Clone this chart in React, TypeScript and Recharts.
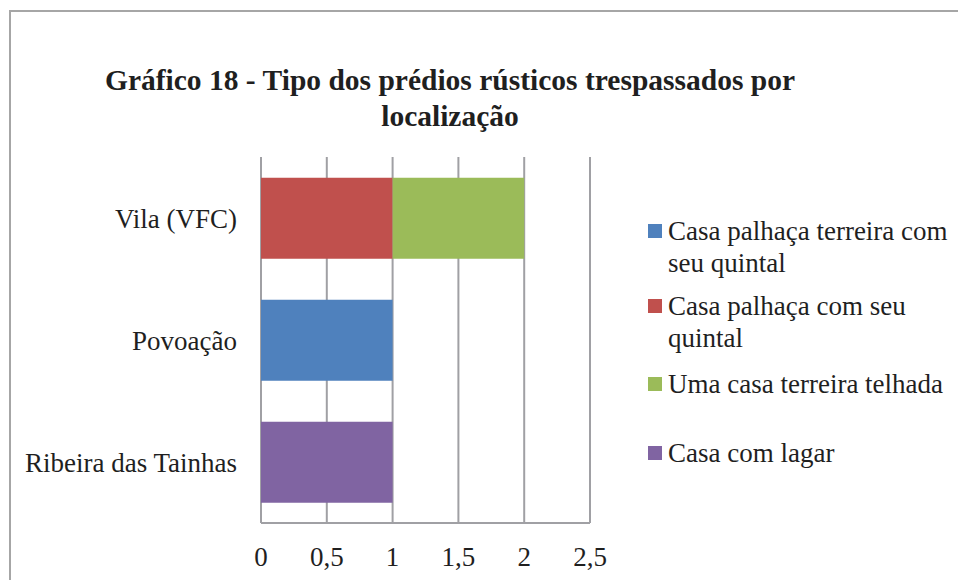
import { BarChart, Bar, XAxis, YAxis, CartesianGrid, Legend } from 'recharts';

const categories = ['Vila (VFC)', 'Povoação', 'Ribeira das Tainhas'];
const seriesNames = [
  'Casa palhaça terreira com seu quintal',
  'Casa palhaça com seu quintal',
  'Uma casa terreira telhada',
  'Casa com lagar',
];
const casaPalhacaTerreira = [0, 1, 0];
const casaPalhaca = [1, 0, 0];
const casaTerreiraTelhada = [1, 0, 0];
const casaComLagar = [0, 0, 1];
const xTicks = [0, 0.5, 1, 1.5, 2, 2.5];

const colors = ['#4F81BD', '#C0504D', '#9BBB59', '#8064A2'];
const seriesValues = [casaPalhacaTerreira, casaPalhaca, casaTerreiraTelhada, casaComLagar];

const data = categories.map((cat, i) => {
  const row: Record<string, string | number> = { cat };
  seriesNames.forEach((name, s) => {
    row[`s${s}`] = seriesValues[s][i];
  });
  return row;
});

const FONT = '"Liberation Serif", "Times New Roman", serif';
const TEXT = '#1f1f1f';
const GRID = '#a0a0a4';

// legend lines as wrapped in the original
const legendLines = [
  ['Casa palhaça terreira com', 'seu quintal'],
  ['Casa palhaça com seu', 'quintal'],
  ['Uma casa terreira telhada'],
  ['Casa com lagar'],
];
const legendGaps = [0, 11, 14, 37];

const renderLegend = () => (
  <div style={{ fontFamily: FONT, fontSize: 27, color: TEXT, lineHeight: '32px' }}>
    {legendLines.map((lines, i) => (
      <div key={i} style={{ display: 'flex', alignItems: 'flex-start', marginTop: legendGaps[i] }}>
        <span
          style={{
            display: 'inline-block',
            width: 14,
            height: 14,
            background: colors[i],
            marginTop: 9,
            marginRight: 6,
            flexShrink: 0,
          }}
        />
        <div>
          {lines.map((l) => (
            <div key={l} style={{ whiteSpace: 'nowrap' }}>{l}</div>
          ))}
        </div>
      </div>
    ))}
  </div>
);

const App = () => {
  return (
    <div style={{ position: 'fixed', left: 0, top: 0, width: 958, height: 580, overflow: 'hidden', background: '#fff' }}>
      <div
        style={{
          position: 'absolute',
          left: 9,
          top: 10,
          width: 1000,
          height: 620,
          border: '2px solid #a6a6a6',
        }}
      />
      <div
        style={{
          position: 'absolute',
          left: 0,
          width: 900,
          top: 62,
          textAlign: 'center',
          fontFamily: FONT,
          fontWeight: 'bold',
          fontSize: 29.5,
          lineHeight: '36px',
          color: TEXT,
          whiteSpace: 'nowrap',
        }}
      >
        Gráfico 18 - Tipo dos prédios rústicos trespassados por
        <br />
        localização
      </div>
      <div style={{ position: 'absolute', left: 0, top: 0 }}>
        <BarChart
          width={958}
          height={580}
          data={data}
          layout="vertical"
          margin={{ top: 157, right: 368, bottom: 0, left: 0 }}
          barCategoryGap="17%"
        >
          <CartesianGrid horizontal={false} stroke={GRID} strokeWidth={2} />
          <XAxis
            type="number"
            domain={[0, 2.5]}
            ticks={xTicks}
            interval={0}
            height={57}
            tickLine={false}
            axisLine={{ stroke: GRID, strokeWidth: 2 }}
            tickMargin={18}
            tickFormatter={(v: number) => String(v).replace('.', ',')}
            tick={{ fontFamily: FONT, fontSize: 27, fill: TEXT }}
          />
          <YAxis
            type="category"
            dataKey="cat"
            width={261}
            tickLine={false}
            axisLine={false}
            tickMargin={18}
            tick={{ fontFamily: FONT, fontSize: 27, fill: TEXT }}
          />
          <Legend
            layout="vertical"
            align="center"
            verticalAlign="middle"
            content={renderLegend}
            wrapperStyle={{ left: 648, top: 215, width: 310 }}
          />
          {seriesNames.map((name, s) => (
            <Bar
              key={name}
              dataKey={`s${s}`}
              name={name}
              stackId="a"
              fill={colors[s]}
              isAnimationActive={false}
            />
          ))}
        </BarChart>
      </div>
    </div>
  );
};

export default App;
